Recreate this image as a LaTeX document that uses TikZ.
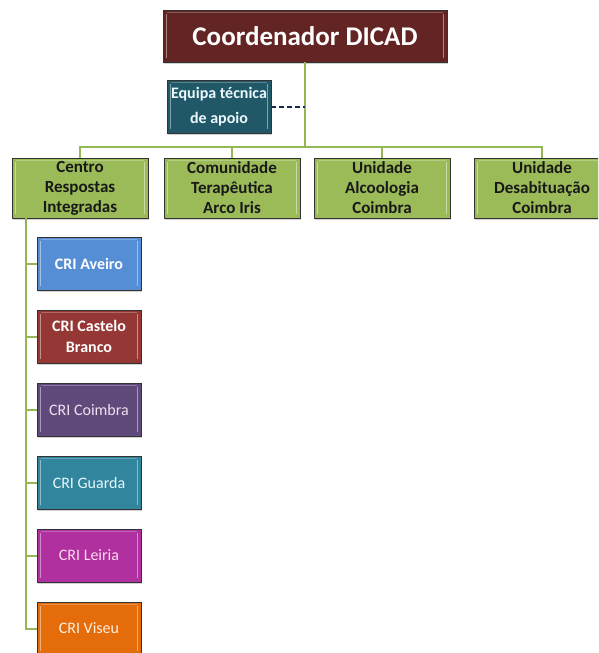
\documentclass[tikz,border=0pt]{standalone}
\usepackage{fontspec}
\setmainfont{Carlito}
\usetikzlibrary{shadows}
\definecolor{cdred}{HTML}{632523}
\definecolor{cdteal}{HTML}{215868}
\definecolor{cdgreen}{HTML}{9BBB59}
\definecolor{cdline}{HTML}{94B856}
\definecolor{cdnavy}{HTML}{17294A}
\definecolor{criblue}{HTML}{558ED5}
\definecolor{crired}{HTML}{953735}
\definecolor{cripurple}{HTML}{604A7B}
\definecolor{criteal}{HTML}{31859C}
\definecolor{crimag}{HTML}{B030A0}
\definecolor{criorange}{HTML}{E46C0A}
\tikzset{
  orgbox/.style={fill=#1, draw=black!80, line width=0.8pt, align=center,
    inner sep=0pt,
    drop shadow={opacity=0.35, shadow xshift=1.2pt, shadow yshift=-1.5pt},
    path picture={
      \draw[white, opacity=0.45, line width=1.2pt]
        ([xshift=3.5pt,yshift=-4pt]path picture bounding box.north west) --
        ([xshift=3.5pt,yshift=4pt]path picture bounding box.south west);
      \draw[white, opacity=0.45, line width=1.2pt]
        ([xshift=-3.5pt,yshift=-4pt]path picture bounding box.north east) --
        ([xshift=-3.5pt,yshift=4pt]path picture bounding box.south east);
      \draw[white, opacity=0.25, line width=1pt]
        ([xshift=4pt,yshift=-2pt]path picture bounding box.north west) --
        ([xshift=-4pt,yshift=-2pt]path picture bounding box.north east);
    }},
  greenbox/.style={orgbox=cdgreen, minimum width=136pt, minimum height=60pt,
    text=black!90, font=\fontsize{17}{20}\selectfont\bfseries},
  cribox/.style={orgbox=#1, minimum width=104pt, minimum height=53pt,
    font=\fontsize{16}{19}\selectfont},
  conn/.style={draw=cdline, line width=2pt},
}
\begin{document}
\begin{tikzpicture}[x=1pt, y=-1pt]
\fill[white] (0,0) rectangle (598,653);
\useasboundingbox (0,0) rectangle (598,653);
\clip (0,0) rectangle (598,653);

% nodes
\node[orgbox=cdred, minimum width=284pt, minimum height=52pt, text=white,
  font=\fontsize{27}{30}\selectfont\bfseries] (coord) at (305,36) {Coordenador DICAD};
\node[orgbox=cdteal, minimum width=104pt, minimum height=53pt, text=white!92!cyan,
  font=\fontsize{16}{25}\selectfont\bfseries] (equipa) at (219,106.5) {Equipa técnica\\de apoio};

\node[greenbox] (g1) at (80,188) {Centro\\Respostas\\Integradas};
\node[greenbox] (g2) at (232,188) {Comunidade\\Terapêutica\\Arco Iris};
\node[greenbox] (g3) at (382,188) {Unidade\\Alcoologia\\Coimbra};
\node[greenbox] (g4) at (542,188) {Unidade\\Desabituação\\Coimbra};

\node[cribox=criblue, text=white, font=\fontsize{16}{19}\selectfont\bfseries] (c1) at (89,263.5) {CRI Aveiro};
\node[cribox=crired, text=white, font=\fontsize{16}{21}\selectfont\bfseries] (c2) at (89,336.5) {CRI Castelo\\Branco};
\node[cribox=cripurple, text=white!88!violet] (c3) at (89,409.5) {CRI Coimbra};
\node[cribox=criteal, text=white!90!cyan] (c4) at (89,482.5) {CRI Guarda};
\node[cribox=crimag, text=white!85!magenta] (c5) at (89,555.5) {CRI Leiria};
\node[cribox=criorange, text=white!88!orange] (c6) at (89,628.5) {CRI Viseu};

% connectors
\coordinate (bar) at (305,147);
\coordinate (lv) at (26,218);
\draw[conn] (coord.south) -- (bar);
\draw[conn] (g1.north) |- (bar);
\draw[conn] (g4.north) |- (bar);
\draw[conn] (g2.north) -- (g2.north |- bar);
\draw[conn] (g3.north) -- (g3.north |- bar);
\draw[cdnavy, line width=2pt, dash pattern=on 5pt off 3pt] (equipa.east) -- (equipa.east -| coord.south);
\draw[conn] (lv) |- (c6.west);
\foreach \c in {c1,c2,c3,c4,c5}
  \draw[conn] (lv |- \c.west) -- (\c.west);
\end{tikzpicture}
\end{document}
